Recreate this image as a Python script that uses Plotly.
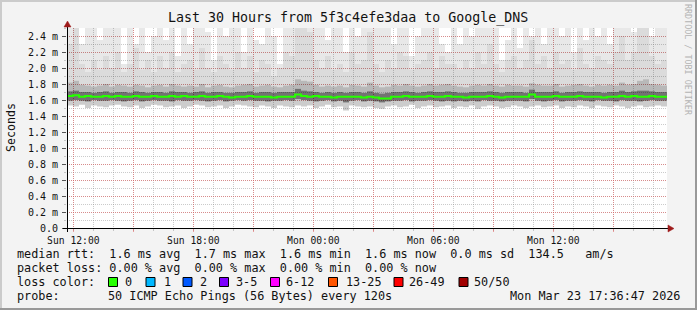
import plotly.graph_objects as go
import pandas as pd

# ---------------- data (values in milliseconds) ----------------
START = "2026-03-22 11:41:00"
END = "2026-03-23 17:41:00"
STEP = "18min"

median_ms = [
    1.65, 1.66, 1.64, 1.65, 1.64, 1.64, 1.65, 1.64, 1.65, 1.64,
    1.64, 1.65, 1.64, 1.64, 1.65, 1.64, 1.64, 1.65, 1.64, 1.65,
    1.64, 1.64, 1.65, 1.64, 1.64, 1.65, 1.64, 1.63, 1.64, 1.64,
    1.65, 1.64, 1.64, 1.64, 1.63, 1.64, 1.64, 1.64, 1.67, 1.65,
    1.64, 1.65, 1.64, 1.64, 1.63, 1.64, 1.64, 1.64, 1.64, 1.63,
    1.64, 1.63, 1.62, 1.62, 1.64, 1.64, 1.65, 1.64, 1.64, 1.64,
    1.65, 1.64, 1.64, 1.65, 1.64, 1.64, 1.63, 1.64, 1.64, 1.64,
    1.65, 1.64, 1.63, 1.64, 1.64, 1.64, 1.64, 1.67, 1.64, 1.64,
    1.64, 1.65, 1.64, 1.64, 1.64, 1.65, 1.64, 1.64, 1.64, 1.63,
    1.64, 1.64, 1.65, 1.64, 1.65, 1.64, 1.64, 1.65, 1.64, 1.64,
]
smoke_min_ms = [
    1.53, 1.52, 1.54, 1.50, 1.53, 1.52, 1.51, 1.53, 1.54, 1.52,
    1.51, 1.53, 1.50, 1.52, 1.54, 1.53, 1.51, 1.52, 1.53, 1.50,
    1.52, 1.54, 1.53, 1.51, 1.52, 1.53, 1.50, 1.52, 1.54, 1.53,
    1.52, 1.51, 1.53, 1.52, 1.50, 1.53, 1.52, 1.51, 1.53, 1.52,
    1.53, 1.50, 1.52, 1.54, 1.51, 1.52, 1.47, 1.53, 1.52, 1.51,
    1.52, 1.50, 1.49, 1.52, 1.53, 1.51, 1.52, 1.54, 1.50, 1.52,
    1.53, 1.51, 1.52, 1.53, 1.50, 1.52, 1.51, 1.53, 1.49, 1.52,
    1.53, 1.52, 1.50, 1.51, 1.53, 1.52, 1.50, 1.52, 1.53, 1.51,
    1.52, 1.53, 1.50, 1.52, 1.51, 1.53, 1.52, 1.50, 1.53, 1.52,
    1.51, 1.53, 1.52, 1.50, 1.52, 1.53, 1.51, 1.52, 1.53, 1.52,
]
smoke_low_ms = [
    1.59, 1.60, 1.59, 1.58, 1.60, 1.59, 1.59, 1.60, 1.59, 1.58,
    1.59, 1.60, 1.58, 1.59, 1.60, 1.59, 1.59, 1.58, 1.60, 1.59,
    1.59, 1.60, 1.59, 1.58, 1.59, 1.60, 1.58, 1.59, 1.60, 1.59,
    1.60, 1.59, 1.59, 1.58, 1.59, 1.59, 1.60, 1.59, 1.61, 1.60,
    1.59, 1.58, 1.59, 1.60, 1.58, 1.59, 1.57, 1.59, 1.60, 1.58,
    1.59, 1.58, 1.57, 1.58, 1.59, 1.59, 1.60, 1.58, 1.59, 1.59,
    1.60, 1.59, 1.58, 1.59, 1.58, 1.59, 1.58, 1.59, 1.58, 1.60,
    1.59, 1.59, 1.58, 1.59, 1.59, 1.59, 1.58, 1.61, 1.59, 1.58,
    1.59, 1.60, 1.58, 1.59, 1.59, 1.60, 1.59, 1.58, 1.60, 1.59,
    1.59, 1.58, 1.60, 1.59, 1.59, 1.58, 1.59, 1.60, 1.59, 1.59,
]
smoke_hi1_ms = [
    1.71, 1.72, 1.70, 1.70, 1.69, 1.70, 1.71, 1.69, 1.70, 1.70,
    1.69, 1.71, 1.70, 1.69, 1.70, 1.70, 1.69, 1.71, 1.70, 1.70,
    1.69, 1.70, 1.71, 1.69, 1.70, 1.70, 1.69, 1.69, 1.70, 1.70,
    1.71, 1.69, 1.70, 1.70, 1.69, 1.70, 1.70, 1.70, 1.74, 1.72,
    1.71, 1.70, 1.69, 1.70, 1.69, 1.70, 1.69, 1.70, 1.70, 1.69,
    1.71, 1.69, 1.68, 1.69, 1.70, 1.70, 1.71, 1.70, 1.69, 1.70,
    1.71, 1.70, 1.70, 1.71, 1.70, 1.69, 1.69, 1.70, 1.70, 1.70,
    1.71, 1.70, 1.69, 1.70, 1.70, 1.70, 1.69, 1.73, 1.70, 1.70,
    1.70, 1.71, 1.69, 1.70, 1.70, 1.71, 1.70, 1.70, 1.70, 1.69,
    1.70, 1.70, 1.72, 1.70, 1.71, 1.72, 1.72, 1.71, 1.70, 1.70,
]
smoke_hi2_ms = [
    1.82, 1.84, 1.79, 1.78, 1.77, 1.78, 1.80, 1.77, 1.79, 1.78,
    1.77, 1.79, 1.78, 1.76, 1.78, 1.79, 1.77, 1.80, 1.78, 1.77,
    1.78, 1.77, 1.80, 1.76, 1.78, 1.79, 1.77, 1.76, 1.78, 1.79,
    1.80, 1.77, 1.78, 1.79, 1.77, 1.76, 1.78, 1.79, 1.86, 1.84,
    1.83, 1.79, 1.77, 1.78, 1.77, 1.78, 1.76, 1.79, 1.78, 1.77,
    1.82, 1.78, 1.76, 1.77, 1.79, 1.78, 1.80, 1.78, 1.77, 1.78,
    1.80, 1.78, 1.79, 1.80, 1.78, 1.77, 1.76, 1.78, 1.79, 1.78,
    1.80, 1.78, 1.77, 1.79, 1.78, 1.78, 1.77, 1.81, 1.79, 1.78,
    1.78, 1.80, 1.77, 1.78, 1.79, 1.80, 1.78, 1.77, 1.79, 1.78,
    1.79, 1.78, 1.82, 1.79, 1.80, 1.84, 1.86, 1.80, 1.79, 1.78,
]
smoke_hi3_ms = [
    2.30, 2.50, 2.05, 1.95, 2.10, 1.98, 2.15, 2.00, 2.20, 1.95,
    2.05, 2.25, 1.98, 2.10, 1.95, 2.15, 2.00, 2.20, 1.95, 2.05,
    2.10, 1.98, 2.25, 2.00, 1.95, 2.15, 2.05, 1.98, 2.20, 2.00,
    2.15, 1.95, 2.10, 2.05, 1.90, 2.00, 2.20, 2.15, 2.55, 2.50,
    2.45, 2.10, 2.00, 2.15, 1.98, 2.05, 1.95, 2.20, 2.05, 2.10,
    2.45, 2.05, 1.95, 2.10, 2.00, 2.20, 2.15, 1.98, 2.05, 2.10,
    2.20, 2.00, 2.15, 2.05, 2.05, 1.98, 2.10, 2.00, 2.20, 2.05,
    2.30, 2.05, 1.95, 2.10, 2.15, 2.00, 2.10, 2.35, 2.05, 2.15,
    2.00, 2.20, 2.05, 2.10, 1.98, 2.25, 2.05, 2.00, 2.15, 2.10,
    2.05, 2.20, 2.40, 2.10, 2.20, 2.55, 2.55, 2.15, 2.05, 2.10,
]
smoke_max_ms = [
    2.60, 2.60, 2.30, 2.60, 2.60, 2.35, 2.60, 2.60, 2.60, 2.05,
    2.60, 2.30, 2.60, 2.20, 2.40, 2.60, 2.35, 2.60, 2.15, 2.60,
    2.30, 2.60, 2.60, 2.45, 2.10, 2.60, 2.40, 2.60, 2.60, 2.20,
    2.60, 2.35, 2.30, 2.60, 2.40, 2.05, 2.60, 2.60, 2.60, 2.60,
    2.60, 2.60, 2.60, 2.35, 2.60, 2.60, 2.20, 2.60, 2.40, 2.60,
    2.60, 2.60, 2.60, 2.60, 2.30, 2.60, 2.60, 2.15, 2.40, 2.60,
    2.60, 2.60, 2.30, 2.20, 2.60, 2.30, 2.60, 2.40, 2.60, 2.60,
    2.60, 2.60, 2.10, 2.35, 2.60, 2.25, 2.60, 2.40, 2.60, 2.30,
    2.60, 2.60, 2.40, 2.60, 2.20, 2.60, 2.35, 2.60, 2.40, 2.60,
    2.30, 2.60, 2.60, 2.60, 2.45, 2.60, 2.60, 2.40, 2.60, 2.60,
]

x_tick_times = ["2026-03-22 12:00", "2026-03-22 15:00", "2026-03-22 18:00",
                "2026-03-22 21:00", "2026-03-23 00:00", "2026-03-23 03:00",
                "2026-03-23 06:00", "2026-03-23 09:00", "2026-03-23 12:00",
                "2026-03-23 15:00"]
x_tick_labels = ["Sun 12:00", "", "Sun 18:00", "", "Mon 00:00", "",
                 "Mon 06:00", "", "Mon 12:00", ""]
y_tick_vals_ms = [0.0, 0.2, 0.4, 0.6, 0.8, 1.0, 1.2, 1.4, 1.6, 1.8, 2.0, 2.2, 2.4]
y_tick_labels = ["0.0", "0.2 m", "0.4 m", "0.6 m", "0.8 m", "1.0 m", "1.2 m",
                 "1.4 m", "1.6 m", "1.8 m", "2.0 m", "2.2 m", "2.4 m"]

title_text = "Last 30 Hours from 5f3c4efe3daa to Google_DNS"
y_title = "Seconds"
side_text = "RRDTOOL / TOBI OETIKER"
legend_rtt = "median rtt:  1.6 ms avg  1.7 ms max  1.6 ms min  1.6 ms now  0.0 ms sd  134.5   am/s"
legend_loss = "packet loss: 0.00 % avg  0.00 % max  0.00 % min  0.00 % now"
legend_color_head = "loss color:"
loss_labels = ["0", "1", "2", "3-5", "6-12", "13-25", "26-49", "50/50"]
loss_colors = ["#26ff00", "#00b8ff", "#0059ff", "#7e00ff", "#ff00ff", "#ff5500", "#ff0000", "#a10000"]
probe_head = "probe:"
probe_text = "50 ICMP Echo Pings (56 Bytes) every 120s"
stamp_text = "Mon Mar 23 17:36:47 2026"

# ---------------- layout constants ----------------
FIG_W, FIG_H = 697, 310
L, R, T, B = 67, 30, 28, 82
PW = FIG_W - L - R
PH = FIG_H - T - B
MONO = "DejaVu Sans Mono"
TXT = "#111111"


def px(p):
    return (p - L) / PW


def py(p):
    return (FIG_H - B - p) / PH


edges = pd.date_range(START, periods=len(median_ms) + 1, freq=STEP)


def stepped(vals_ms):
    v = [a * 1e-3 for a in vals_ms]
    return v + [v[-1]]


fig = go.Figure()

bands = [
    (smoke_min_ms, None),
    (smoke_low_ms, "rgba(0,0,0,0.20)"),
    (smoke_hi1_ms, "rgba(0,0,0,0.55)"),
    (smoke_hi2_ms, "rgba(0,0,0,0.28)"),
    (smoke_hi3_ms, "rgba(0,0,0,0.14)"),
    (smoke_max_ms, "rgba(0,0,0,0.09)"),
]
for vals, col in bands:
    fig.add_trace(go.Scatter(
        x=edges, y=stepped(vals), mode="lines",
        line=dict(width=0, shape="hv"),
        fill="tonexty" if col else None,
        fillcolor=col,
        hoverinfo="skip", showlegend=False,
    ))

fig.add_trace(go.Scatter(
    x=edges, y=stepped(median_ms), mode="lines",
    line=dict(width=2, shape="hv", color="#26ff00"),
    hoverinfo="skip", showlegend=False,
))

RED_GRID = "rgba(225,90,90,0.55)"
GREY_GRID = "rgba(140,140,140,0.45)"

fig.update_layout(
    width=FIG_W, height=FIG_H,
    margin=dict(l=L, r=R, t=T, b=B, pad=0),
    paper_bgcolor="#f3f3f3",
    plot_bgcolor="#ffffff",
    showlegend=False,
    xaxis=dict(
        type="date", range=[START, END],
        tickmode="array", tickvals=x_tick_times, ticktext=x_tick_labels,
        showgrid=True, gridcolor=RED_GRID, griddash="1px,1px", gridwidth=1,
        ticks="outside", ticklen=3, tickcolor=RED_GRID,
        tickfont=dict(family=MONO, size=9.7, color=TXT),
        minor=dict(dtick=3600000, tick0="2026-03-22 12:00", showgrid=True,
                   gridcolor=GREY_GRID, griddash="1px,1px", ticks="outside",
                   ticklen=2, tickcolor=GREY_GRID),
        showline=False, zeroline=False, fixedrange=True,
    ),
    yaxis=dict(
        range=[0, 0.0025],
        tickmode="array", tickvals=[v * 1e-3 for v in y_tick_vals_ms], ticktext=y_tick_labels,
        showgrid=True, gridcolor=RED_GRID, griddash="1px,1px", gridwidth=1,
        ticks="outside", ticklen=4, tickcolor="#555555",
        tickfont=dict(family=MONO, size=10, color=TXT),
        minor=dict(dtick=0.0001, tick0=0, showgrid=True, gridcolor=GREY_GRID,
                   griddash="1px,1px", ticks="outside", ticklen=2, tickcolor=GREY_GRID),
        showline=False, zeroline=False, fixedrange=True,
        ticklabelstandoff=2,
    ),
)

shapes = []
# frame
shapes.append(dict(type="rect", xref="paper", yref="paper", x0=px(0), x1=px(FIG_W), y0=py(0), y1=py(2),
                   fillcolor="#cbcbcb", line=dict(width=0), layer="above"))
shapes.append(dict(type="rect", xref="paper", yref="paper", x0=px(0), x1=px(2), y0=py(0), y1=py(FIG_H),
                   fillcolor="#cbcbcb", line=dict(width=0), layer="above"))
shapes.append(dict(type="rect", xref="paper", yref="paper", x0=px(0), x1=px(FIG_W), y0=py(FIG_H - 2), y1=py(FIG_H),
                   fillcolor="#999999", line=dict(width=0), layer="above"))
shapes.append(dict(type="rect", xref="paper", yref="paper", x0=px(FIG_W - 2), x1=px(FIG_W), y0=py(0), y1=py(FIG_H),
                   fillcolor="#999999", line=dict(width=0), layer="above"))
# axes
shapes.append(dict(type="line", xref="paper", yref="paper", x0=px(63), x1=px(669), y0=py(228.5), y1=py(228.5),
                   line=dict(color="#000000", width=1), layer="above"))
shapes.append(dict(type="line", xref="paper", yref="paper", x0=px(67.5), x1=px(67.5), y0=py(232), y1=py(26),
                   line=dict(color="#000000", width=1), layer="above"))
# arrows
shapes.append(dict(type="path", xref="paper", yref="paper",
                   path=f"M {px(668)} {py(225)} L {px(674)} {py(228.5)} L {px(668)} {py(232)} Z",
                   fillcolor="#9e1b1b", line=dict(color="#9e1b1b", width=0.5), layer="above"))
shapes.append(dict(type="path", xref="paper", yref="paper",
                   path=f"M {px(64)} {py(27)} L {px(67.5)} {py(21)} L {px(71)} {py(27)} Z",
                   fillcolor="#9e1b1b", line=dict(color="#9e1b1b", width=0.5), layer="above"))
# loss colour boxes
box_px = [108.5, 146, 183, 219.5, 270.5, 328.5, 394, 459]
label_px = [124, 163, 199, 234.5, 285, 345, 408, 473]
for bx, c in zip(box_px, loss_colors):
    shapes.append(dict(type="rect", xref="paper", yref="paper", x0=px(bx), x1=px(bx + 9),
                       y0=py(286.5), y1=py(277.5), fillcolor=c,
                       line=dict(color="#000000", width=1), layer="above"))
fig.update_layout(shapes=shapes)


def ann(text, xp, yp, size=11.8, anchor="left", color=TXT, angle=0, yanchor="middle"):
    return dict(text=text.replace(" ", "\u00a0"), x=px(xp), y=py(yp), xref="paper", yref="paper",
                xanchor=anchor, yanchor=yanchor, showarrow=False, borderpad=0,
                textangle=angle, font=dict(family=MONO, size=size, color=color))


anns = [
    ann(title_text, 347.5, 18, size=13.3, anchor="center"),
    ann(y_title, 11, 128, size=11.6, anchor="center", angle=-90),
    ann(side_text, 688, 60, size=8.4, anchor="center", color="#b4b4b4", angle=90),
    ann(legend_rtt, 16, 254),
    ann(legend_loss, 16, 268),
    ann(legend_color_head, 16, 282),
    ann(probe_head, 16, 296),
    ann(probe_text, 107, 296),
    ann(stamp_text, 681, 296, anchor="right"),
]
for lx, lab in zip(label_px, loss_labels):
    anns.append(ann(lab, lx, 282))
fig.update_layout(annotations=anns)

fig.write_html("out.html")
